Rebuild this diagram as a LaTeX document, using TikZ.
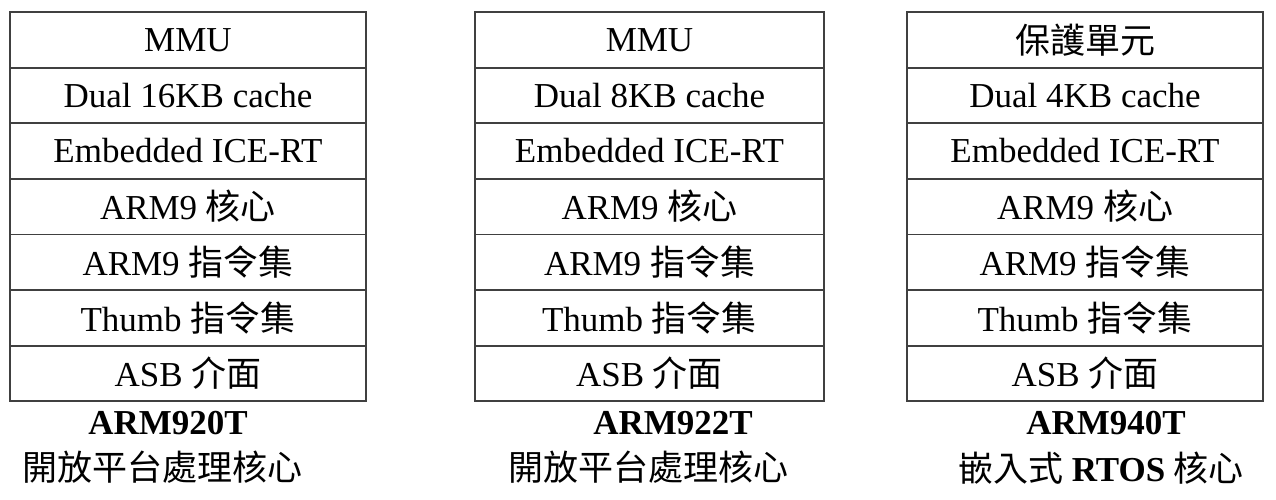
\documentclass[tikz,border=0pt]{standalone}
\usepackage{fontspec}
\setmainfont{Liberation Serif}
\newfontfamily\cjk{Noto Sans CJK TC}
\begin{document}
\begin{tikzpicture}[x=1pt,y=-1pt,
  cell/.style={draw=black!75,line width=1.8pt,rectangle,inner sep=0pt,
    minimum height=55.6pt,font=\fontsize{35}{40}\selectfont},
  chip/.style={font=\fontsize{35}{40}\selectfont\bfseries,inner sep=0pt},
  desc/.style={font=\fontsize{35}{40}\selectfont,inner sep=0pt}]
\useasboundingbox (0,0) rectangle (1276,499);
% table 1
\node[cell,minimum width=356pt] (a1) at (188,39.8) {MMU};
\node[cell,minimum width=356pt] (a2) at (188,95.4) {Dual 16KB cache};
\node[cell,minimum width=356pt] (a3) at (188,151) {Embedded ICE-RT};
\node[cell,minimum width=356pt] (a4) at (188,206.6) {ARM9 {\cjk 核心}};
\node[cell,minimum width=356pt] (a5) at (188,262.2) {ARM9 {\cjk 指令集}};
\node[cell,minimum width=356pt] (a6) at (188,317.8) {Thumb {\cjk 指令集}};
\node[cell,minimum width=356pt] (a7) at (188,373.4) {ASB {\cjk 介面}};
\node[chip] (an) at (168,423) {ARM920T};
\node[desc] (ad) at (162,467) {\cjk 開放平台處理核心};
% table 2
\node[cell,minimum width=349pt] (b1) at (649.5,39.8) {MMU};
\node[cell,minimum width=349pt] (b2) at (649.5,95.4) {Dual 8KB cache};
\node[cell,minimum width=349pt] (b3) at (649.5,151) {Embedded ICE-RT};
\node[cell,minimum width=349pt] (b4) at (649.5,206.6) {ARM9 {\cjk 核心}};
\node[cell,minimum width=349pt] (b5) at (649.5,262.2) {ARM9 {\cjk 指令集}};
\node[cell,minimum width=349pt] (b6) at (649.5,317.8) {Thumb {\cjk 指令集}};
\node[cell,minimum width=349pt] (b7) at (649.5,373.4) {ASB {\cjk 介面}};
\node[chip] (bn) at (673,423) {ARM922T};
\node[desc] (bd) at (648,467) {\cjk 開放平台處理核心};
% table 3
\node[cell,minimum width=356pt] (c1) at (1085,39.8) {\cjk 保護單元};
\node[cell,minimum width=356pt] (c2) at (1085,95.4) {Dual 4KB cache};
\node[cell,minimum width=356pt] (c3) at (1085,151) {Embedded ICE-RT};
\node[cell,minimum width=356pt] (c4) at (1085,206.6) {ARM9 {\cjk 核心}};
\node[cell,minimum width=356pt] (c5) at (1085,262.2) {ARM9 {\cjk 指令集}};
\node[cell,minimum width=356pt] (c6) at (1085,317.8) {Thumb {\cjk 指令集}};
\node[cell,minimum width=356pt] (c7) at (1085,373.4) {ASB {\cjk 介面}};
\node[chip] (cn) at (1106,423) {ARM940T};
\node[desc] (cd) at (1101,468) {{\cjk 嵌入式} \textbf{RTOS} {\cjk 核心}};
\end{tikzpicture}
\end{document}
